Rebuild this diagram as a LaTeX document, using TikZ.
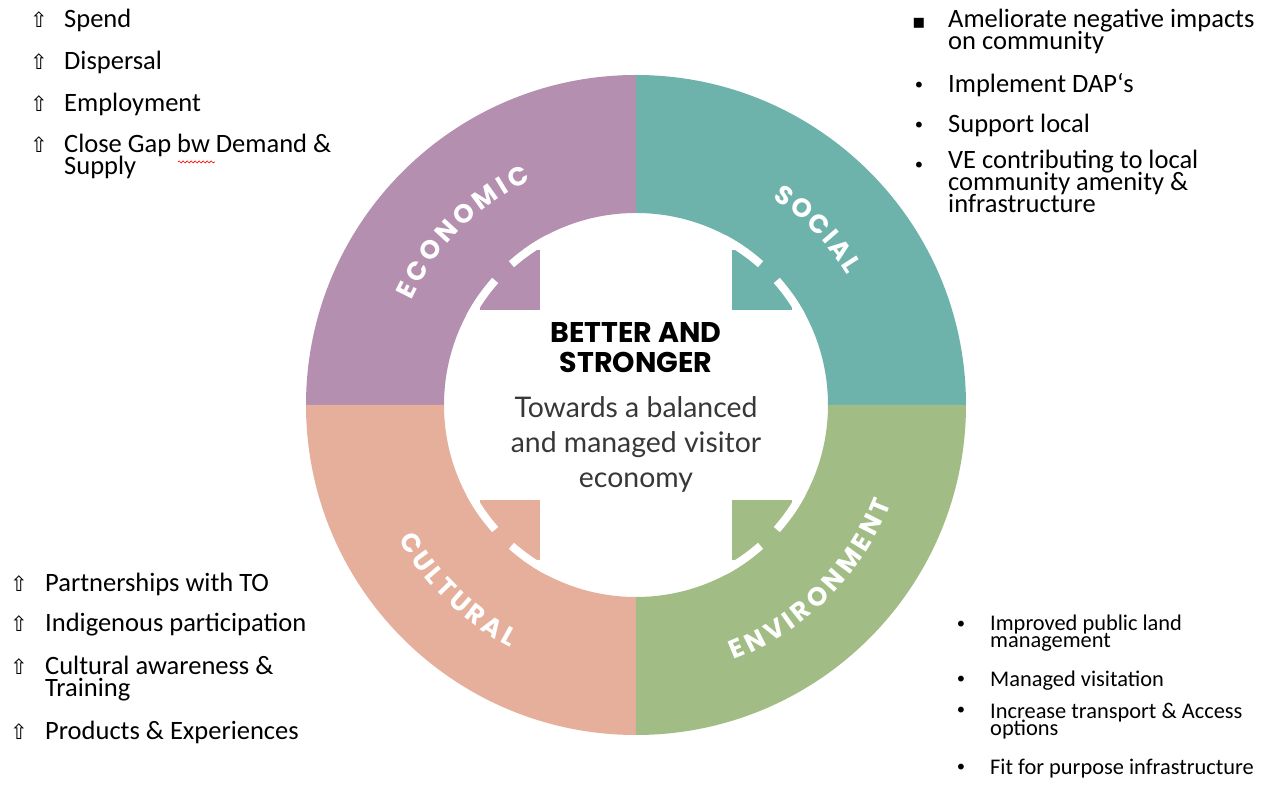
\documentclass[tikz,border=0pt]{standalone}
\usepackage{fontspec}
\setmainfont{Carlito}
\newfontfamily\ringfont{Poppins}
\newfontfamily\midfont{Lato}
\newfontfamily\symfont{DejaVu Sans}
\usetikzlibrary{decorations.text}
\usetikzlibrary{decorations.pathmorphing}
\definecolor{econ}{RGB}{180,143,175}
\definecolor{soc}{RGB}{109,179,171}
\definecolor{cult}{RGB}{229,175,156}
\definecolor{envi}{RGB}{161,188,132}
\definecolor{midgrey}{RGB}{55,55,55}
\newcommand\ringtxt{\ringfont\bfseries\fontsize{26}{26}\selectfont}
\setlength{\lineskiplimit}{-100pt}

\begin{document}
\begin{tikzpicture}[x=1pt,y=1pt,
    gapline/.style={white, line width=8pt},
    ringlabel/.style={decorate, decoration={text along path, text align=fit to path,
        text color=white, text={|\ringtxt|#1}}},
    headtext/.style={anchor=base, align=center, inner sep=0pt,
        font=\ringfont\bfseries\fontsize{28.5}{30}\selectfont},
    tagline/.style={anchor=base, align=center, inner sep=0pt, text=midgrey,
        font=\midfont\fontsize{28.4}{35}\selectfont},
    item/.style={anchor=base west, align=left, inner sep=0pt,
        font=\fontsize{26.5}{22}\selectfont},
    smallitem/.style={item, font=\fontsize{22.4}{17}\selectfont},
    upbul/.style={anchor=base, inner sep=0pt, font=\symfont\fontsize{21}{21}\selectfont},
    dotbul/.style={anchor=base, inner sep=0pt, font=\symfont\fontsize{20}{20}\selectfont}]

    \useasboundingbox (-636,-381) rectangle (626,405);

    % ring quarters and inner corners
    \foreach \c/\a in {soc/0, econ/90, cult/180, envi/270}
        \fill[\c] (\a:330) arc[start angle=\a, end angle=\a+90, radius=330]
            -- (\a+90:192) arc[start angle=\a+90, end angle=\a, radius=192] -- cycle;
    \foreach \c/\sx/\sy in {econ/-1/1, soc/1/1, cult/-1/-1, envi/1/-1}
        \fill[\c] (\sx*96,\sy*95) rectangle (\sx*156,\sy*155);
    \foreach \a in {45,135,225,315} {
        \draw[gapline] (\a-17:188) arc[start angle=\a-17, end angle=\a-3.5, radius=188];
        \draw[gapline] (\a+3.5:188) arc[start angle=\a+3.5, end angle=\a+17, radius=188];
    }

    \path[ringlabel=ECONOMIC] (155:248) arc[start angle=155, end angle=115, radius=248];
    \path[ringlabel=SOCIAL] (56.5:248) arc[start angle=56.5, end angle=31.5, radius=248];
    \path[ringlabel=CULTURAL] (209.5:273) arc[start angle=209.5, end angle=242.5, radius=273];
    \path[ringlabel=ENVIRONMENT] (291:273) arc[start angle=291, end angle=339, radius=273];

    \node[headtext] (head) at (0,32) {BETTER AND\\STRONGER};
    \node[tagline] (goal) at (0,-83) {Towards a balanced\\and managed visitor\\economy};

    % lists (bullet on first line, node base on last line)
    \foreach \y/\yy/\txt [count=\i] in {377/377/Spend, 335/335/Dispersal, 293/293/Employment,
            252/230/{Close Gap bw Demand \&\\Supply}} {
        \node[upbul] (ecob\i) at (-597,\y) {⇧};
        \node[item] (eco\i) at (-572,\yy) {\txt};
    }
    \draw[red, line width=0.7pt, decorate, decoration={snake, amplitude=1pt, segment length=4pt}]
        (-458,243) -- (-421,243);

    \foreach \y/\yy/\b/\txt [count=\i] in {376/355/▪/{Ameliorate negative impacts\\on community},
            312/312/•/{Implement DAP‘s}, 272/272/•/{Support local},
            232/192/•/{VE contributing to local\\community amenity \&\\infrastructure}} {
        \node[dotbul] (socb\i) at (283,\y) {\b};
        \node[item] (soc\i) at (312,\yy) {\txt};
    }

    \foreach \y/\yy/\txt [count=\i] in {-187/-187/Partnerships with TO,
            -227/-227/Indigenous participation,
            -270/-292/{Cultural awareness \&\\Training}, -335/-335/Products \& Experiences} {
        \node[upbul] (cultb\i) at (-617,\y) {⇧};
        \node[item] (cult\i) at (-591,\yy) {\txt};
    }

    \foreach \y/\yy/\txt [count=\i] in {-227/-243/{Improved public land\\management},
            -282/-282/Managed visitation,
            -313/-331/{Increase transport \& Access\\options},
            -370/-370/Fit for purpose infrastructure} {
        \node[dotbul] (envb\i) at (325,\y) {•};
        \node[smallitem] (env\i) at (354,\yy) {\txt};
    }
\end{tikzpicture}
\end{document}
